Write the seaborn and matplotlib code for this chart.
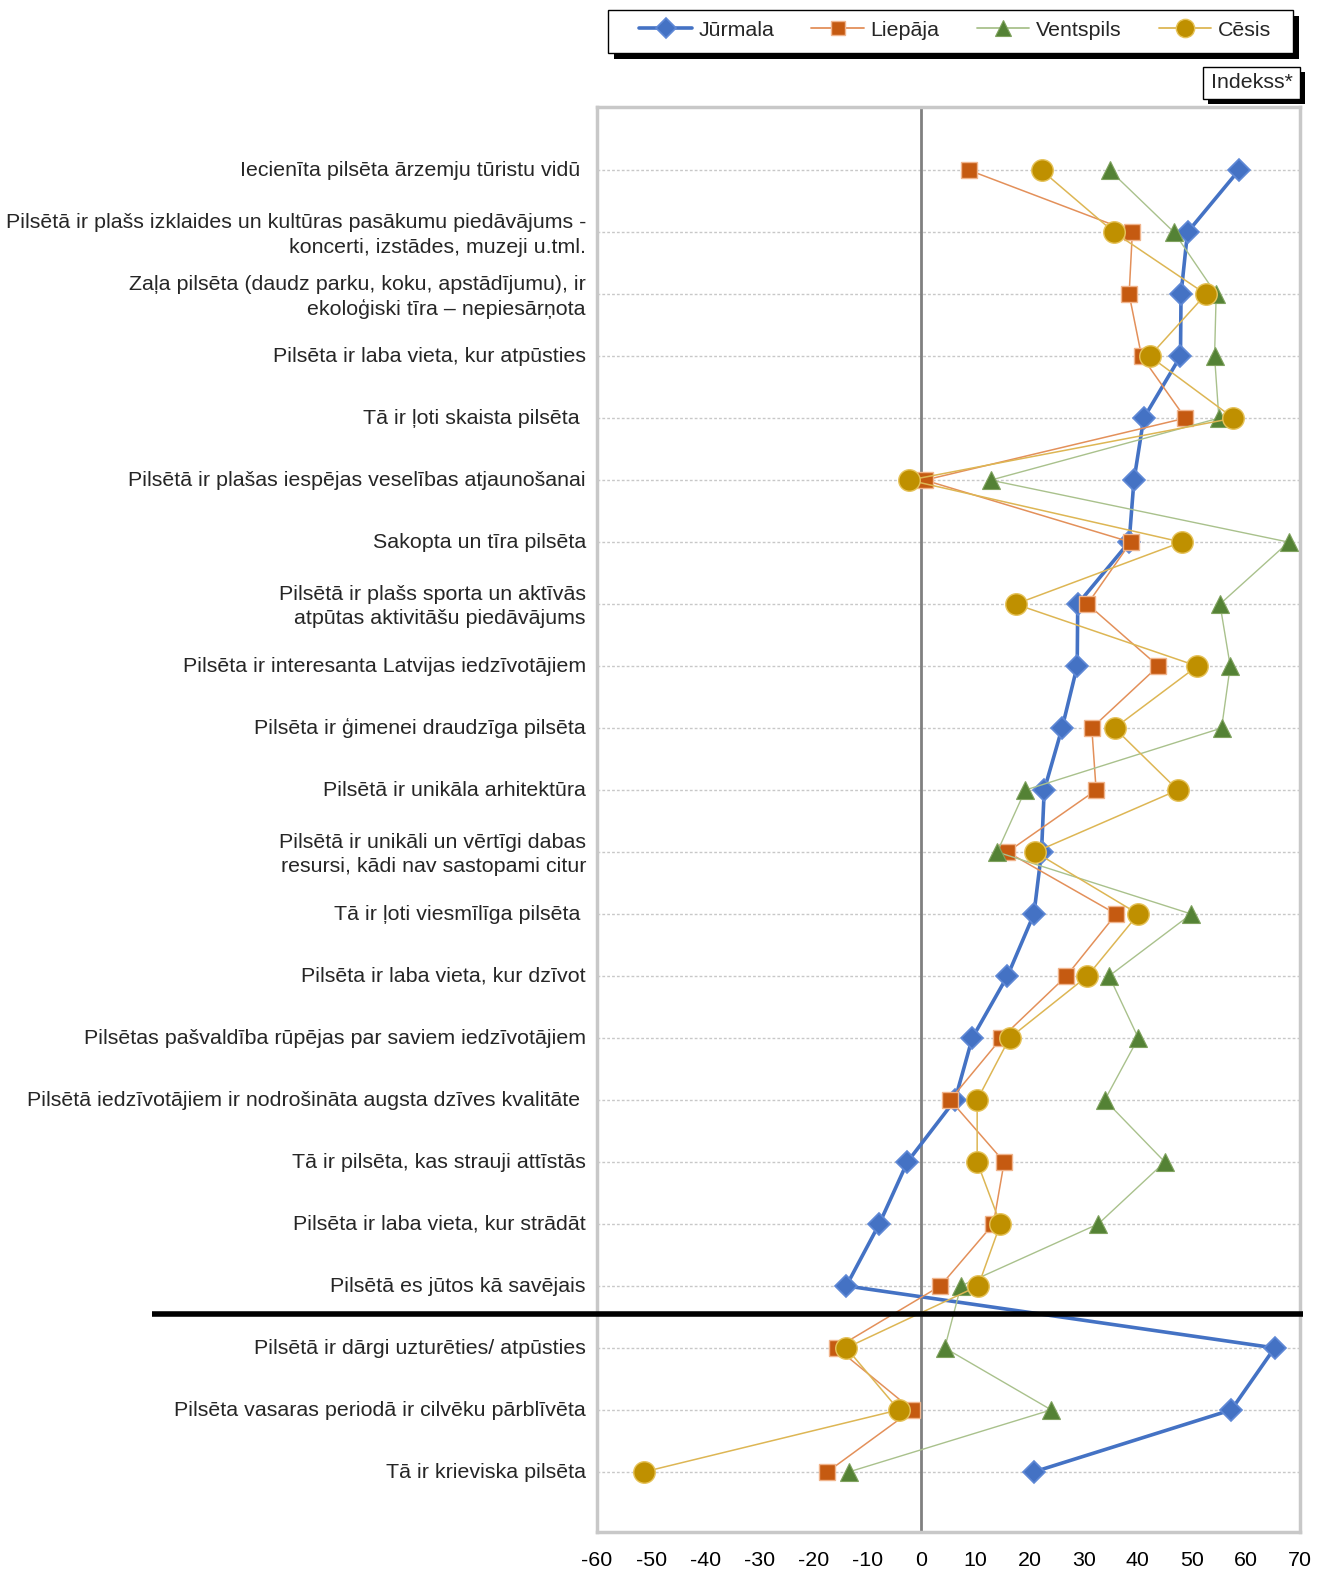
import numpy as np
import pandas as pd
import matplotlib
matplotlib.use("Agg")
import matplotlib.pyplot as plt
from matplotlib.lines import Line2D
from matplotlib.patches import Rectangle
import seaborn as sns

# ---------------- data ----------------
categories = [
    "Iecienīta pilsēta ārzemju tūristu vidū ",
    "Pilsētā ir plašs izklaides un kultūras pasākumu piedāvājums -\nkoncerti, izstādes, muzeji u.tml.",
    "Zaļa pilsēta (daudz parku, koku, apstādījumu), ir\nekoloģiski tīra – nepiesārņota",
    "Pilsēta ir laba vieta, kur atpūsties",
    "Tā ir ļoti skaista pilsēta ",
    "Pilsētā ir plašas iespējas veselības atjaunošanai",
    "Sakopta un tīra pilsēta",
    "Pilsētā ir plašs sporta un aktīvās\natpūtas aktivitāšu piedāvājums",
    "Pilsēta ir interesanta Latvijas iedzīvotājiem",
    "Pilsēta ir ģimenei draudzīga pilsēta",
    "Pilsētā ir unikāla arhitektūra",
    "Pilsētā ir unikāli un vērtīgi dabas\nresursi, kādi nav sastopami citur",
    "Tā ir ļoti viesmīlīga pilsēta ",
    "Pilsēta ir laba vieta, kur dzīvot",
    "Pilsētas pašvaldība rūpējas par saviem iedzīvotājiem",
    "Pilsētā iedzīvotājiem ir nodrošināta augsta dzīves kvalitāte ",
    "Tā ir pilsēta, kas strauji attīstās",
    "Pilsēta ir laba vieta, kur strādāt",
    "Pilsētā es jūtos kā savējais",
    "Pilsētā ir dārgi uzturēties/ atpūsties",
    "Pilsēta vasaras periodā ir cilvēku pārblīvēta",
    "Tā ir krieviska pilsēta",
]

jurmala = [58.7, 49.2, 48.0, 47.9, 41.1, 39.3, 38.4, 28.9, 28.8, 26.0, 22.7,
           22.2, 20.8, 15.9, 9.4, 6.2, -2.6, -7.8, -13.9, 65.3, 57.3, 20.8]
liepaja = [8.8, 39.0, 38.4, 40.7, 48.8, 0.6, 38.7, 30.7, 43.8, 31.5, 32.3,
           15.9, 36.0, 26.8, 14.8, 5.3, 15.3, 13.3, 3.5, -15.7, -1.7, -17.4]
ventspils = [34.8, 46.7, 54.5, 54.2, 55.0, 12.8, 67.9, 55.2, 57.1, 55.5, 19.2,
             14.0, 49.9, 34.7, 40.1, 33.9, 45.0, 32.7, 7.3, 4.3, 24.0, -13.4]
cesis = [22.2, 35.6, 52.6, 42.2, 57.7, -2.3, 48.1, 17.4, 51.0, 35.7, 47.4,
         21.0, 40.1, 30.7, 16.3, 10.3, 10.3, 14.6, 10.5, -13.9, -4.2, -51.3]

series_names = ["Jūrmala", "Liepāja", "Ventspils", "Cēsis"]
x_ticks = list(range(-60, 71, 10))
axis_label = "Indekss*"

# ---------------- styles ----------------
styles = {
    "Jūrmala":   dict(color="#4472C4", lw=2.6, marker="D", ms=11.5, mfc="#4472C4", mec="#5E88D6", mew=1.2),
    "Liepāja":   dict(color="#E3905A", lw=1.1, marker="s", ms=11.5, mfc="#C55A11", mec="#F0B48C", mew=1.0),
    "Ventspils": dict(color="#A9C18C", lw=1.0, marker="^", ms=13, mfc="#548235", mec="#7FA25E", mew=0.8),
    "Cēsis":     dict(color="#DDB654", lw=1.1, marker="o", ms=15.5, mfc="#BF9000", mec="#E6C35A", mew=1.0),
}

pos = np.arange(len(categories))
df = pd.DataFrame({
    "pos": np.tile(pos, 4),
    "value": np.concatenate([jurmala, liepaja, ventspils, cesis]),
    "city": np.repeat(series_names, len(categories)),
})

sns.set_theme(style="white")
plt.rcParams["font.family"] = ["Liberation Sans", "DejaVu Sans"]

FS = 15.4
W, H = 1325, 1571
fig = plt.figure(figsize=(W / 100, H / 100), dpi=100)
ax = fig.add_axes([597 / W, 1 - 1532 / H, (1300 - 597) / W, (1532 - 107) / H])

# gridlines and zero line
for p in pos:
    ax.axhline(p, color="#C8C8C8", lw=1.0, ls=(0, (2, 1.5)), zorder=0)
ax.axvline(0, color="#808080", lw=2, zorder=1)

for i, name in enumerate(series_names):
    st = styles[name]
    sub = df[df["city"] == name]
    sns.lineplot(data=sub, x="value", y="pos", sort=False, estimator=None,
                 ax=ax, color=st["color"], linewidth=st["lw"],
                 marker=st["marker"], markersize=st["ms"],
                 markerfacecolor=st["mfc"], markeredgecolor=st["mec"],
                 markeredgewidth=st["mew"], zorder=2 + i, legend=False)

ax.set_xlim(-60, 70)
ax.set_ylim(21.97, -1.02)
ax.set_xticks(x_ticks)
ax.set_xticklabels([str(t) for t in x_ticks], fontsize=FS)
ax.set_yticks(pos - 0.03)
ax.set_yticklabels(categories, fontsize=FS, ha="right")
for lbl in ax.get_yticklabels():
    lbl.set_linespacing(1.35)
ax.set_xlabel("")
ax.set_ylabel("")
ax.tick_params(axis="y", length=0, pad=8)
ax.tick_params(axis="x", direction="out", length=7, width=2, color="#BFBFBF",
               pad=7, labelcolor="black")
for sp in ax.spines.values():
    sp.set_color("#C8C8C8")
    sp.set_linewidth(2.5)
ax.grid(False)

# separator line between positive and negative statements
ax.plot([-0.633, 1.004], [18.45, 18.45], transform=ax.get_yaxis_transform(),
        color="black", lw=4, clip_on=False, zorder=10, solid_capstyle="butt")

# ---------------- legend box ----------------
def fig_rect(x0, y0, x1, y1, **kw):
    r = Rectangle((x0 / W, 1 - y1 / H), (x1 - x0) / W, (y1 - y0) / H,
                  transform=fig.transFigure, **kw)
    fig.patches.append(r)

fig_rect(614, 16, 1299, 59, facecolor="black", edgecolor="none", zorder=1)
fig_rect(608, 10, 1293, 53, facecolor="white", edgecolor="black", lw=1, zorder=2)

handles = [Line2D([], [], color=styles[n]["color"], lw=max(styles[n]["lw"], 1.3),
                  marker=styles[n]["marker"], ms=styles[n]["ms"] * 0.85,
                  mfc=styles[n]["mfc"], mec=styles[n]["mec"], mew=styles[n]["mew"])
           for n in series_names]
leg = fig.legend(handles, series_names, loc="center",
                 bbox_to_anchor=(955 / W, 1 - 30 / H), ncol=4, frameon=False,
                 fontsize=FS, handlelength=2.45, handletextpad=0.3,
                 columnspacing=1.75)
leg.set_zorder(5)

# Indekss* box
fig_rect(1208, 72, 1305, 104, facecolor="black", edgecolor="none", zorder=1)
fig_rect(1203, 67, 1300, 99, facecolor="white", edgecolor="black", lw=1, zorder=2)
fig.text(1251.5 / W, 1 - 83 / H, axis_label, ha="center", va="center",
         fontsize=FS, zorder=3)

fig.savefig("out.png", dpi=100)
